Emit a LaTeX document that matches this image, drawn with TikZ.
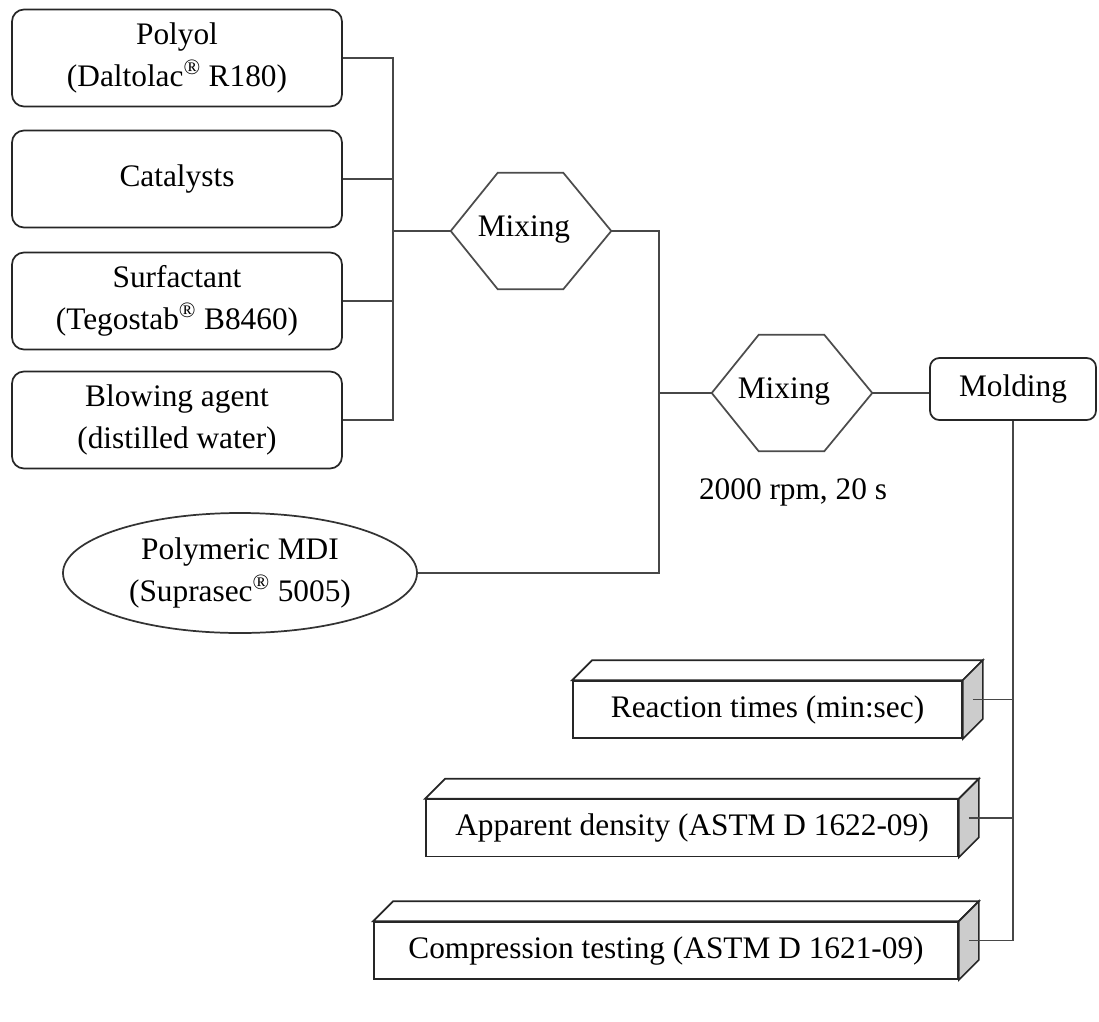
\documentclass[tikz,border=0pt]{standalone}
\usepackage{fontspec}
\setmainfont{Liberation Serif}
\usetikzlibrary{shapes.geometric}
\newcommand\pxl{0.75pt}
\newcommand\regm{\textsuperscript{®}}
\begin{document}
\begin{tikzpicture}[x=0.75pt,y=-0.75pt,
  every node/.style={font=\fontsize{23.5}{32}\selectfont, align=center, inner sep=0pt},
  ln/.style={draw=black!72, line width=1.3pt},
  rbox/.style={draw=black!85, line width=1.3pt, rounded corners=9pt, minimum width=330*\pxl, minimum height=97*\pxl},
  hexnode/.style={minimum width=160*\pxl, minimum height=116*\pxl},
  hexline/.style={draw=black!70, line width=1.3pt},
  cubefront/.style={draw=black!85, line width=1.3pt, fill=white, minimum height=57*\pxl},
  cubetop/.style={draw=black!85, line width=1.3pt, fill=white},
  cubeside/.style={draw=black!85, line width=1.3pt, fill=gray!40},
  ellnode/.style={ellipse, draw=black!80, line width=1.3pt, minimum width=354*\pxl, minimum height=120*\pxl}
]
\useasboundingbox (0,0) rectangle (1099,1021);

% input boxes
\node[rbox] (b1) at (177,58) {Polyol\\ (Daltolac\regm{} R180)};
\node[rbox] (b2) at (177,179) {\raisebox{3pt}{Catalysts}};
\node[rbox] (b3) at (177,301) {Surfactant\\ (Tegostab\regm{} B8460)};
\node[rbox] (b4) at (177,420) {Blowing agent\\ (distilled water)};

% isocyanate
\node[ellnode] (ell) at (240,573) {Polymeric MDI\\ (Suprasec\regm{} 5005)};

% mixing steps
\node[hexnode] (h1) at (531,231) {};
\node[hexnode] (h2) at (792,393) {};
\draw[hexline] (h1.west) -- ([shift={(47,0)}]h1.north west) -- ([shift={(-48,0)}]h1.north east) -- (h1.east) -- ([shift={(-48,0)}]h1.south east) -- ([shift={(47,0)}]h1.south west) -- cycle;
\draw[hexline] (h2.west) -- ([shift={(47,0)}]h2.north west) -- ([shift={(-48,0)}]h2.north east) -- (h2.east) -- ([shift={(-48,0)}]h2.south east) -- ([shift={(47,0)}]h2.south west) -- cycle;
\node (m1) at (524,230) {Mixing};
\node (m2) at (784,392) {Mixing};
\node (rpm) at (793,492) {2000 rpm, 20 s};

% molding
\node[rbox, rounded corners=7pt, minimum width=166*\pxl, minimum height=62*\pxl] (mold) at (1013,389) {\raisebox{4pt}{Molding}};

% test boxes (3D)
\node[cubefront, minimum width=389*\pxl] (c1) at (767.5,709.5) {Reaction times (min:sec)};
\node[cubefront, minimum width=532*\pxl] (c2) at (692,828) {Apparent density (ASTM D 1622-09)};
\node[cubefront, minimum width=584*\pxl] (c3) at (666,950.5) {Compression testing (ASTM D 1621-09)};

\foreach \c in {c1,c2,c3}{
  \draw[cubetop] (\c.north west) -- ([shift={(20,-20)}]\c.north west) -- ([shift={(20,-20)}]\c.north east) -- (\c.north east) -- cycle;
  \draw[cubeside] (\c.north east) -- ([shift={(20,-20)}]\c.north east) -- ([shift={(20,-20)}]\c.south east) -- (\c.south east) -- cycle;
  \coordinate (\c s) at ([shift={(10,-10)}]\c.east);
}

% connectors
\coordinate (bus1) at (393,231);
\draw[ln] (b1.east) -| (bus1);
\draw[ln] (b4.east) -| (bus1);
\draw[ln] (b2.east) -- (b2.east -| bus1);
\draw[ln] (b3.east) -- (b3.east -| bus1);
\draw[ln] (bus1) -- (h1.west);

\coordinate (bus2) at (659,393);
\draw[ln] (h1.east) -| (bus2);
\draw[ln] (ell.east) -| (bus2);
\draw[ln] (bus2) -- (h2.west);
\draw[ln] (h2.east) -- (h2.east -| mold.west);

\draw[ln] (mold.south) |- (c3s);
\draw[ln] (c1s) -- (c1s -| mold.south);
\draw[ln] (c2s) -- (c2s -| mold.south);
\end{tikzpicture}
\end{document}
